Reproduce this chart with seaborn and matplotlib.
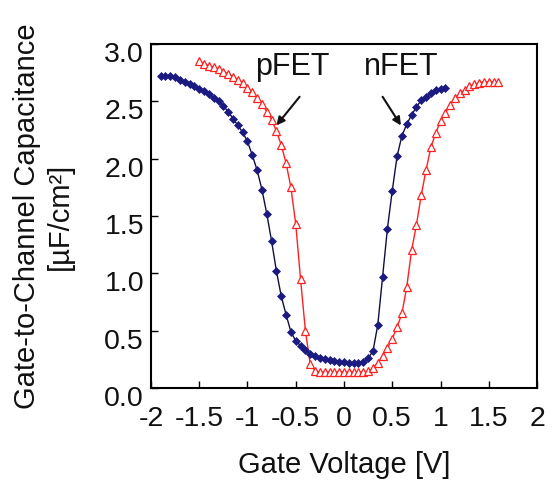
import matplotlib
matplotlib.use("Agg")
import matplotlib.pyplot as plt
import matplotlib.transforms as mtrans
import seaborn as sns
import pandas as pd

# ---- data ----
nfet_v = [-1.90, -1.85, -1.80, -1.75, -1.70, -1.65, -1.60, -1.55, -1.50, -1.45,
          -1.40, -1.35, -1.30, -1.25, -1.20, -1.15, -1.10, -1.05, -1.00, -0.95,
          -0.90, -0.85, -0.80, -0.75, -0.70, -0.65, -0.60, -0.55, -0.50, -0.45,
          -0.40, -0.35, -0.30, -0.25, -0.20, -0.15, -0.10, -0.05, 0.00, 0.05,
          0.10, 0.15, 0.20, 0.25, 0.30, 0.35, 0.40, 0.45, 0.50, 0.55,
          0.60, 0.65, 0.70, 0.75, 0.80, 0.85, 0.90, 0.95, 1.00, 1.05]
nfet_c = [2.72, 2.72, 2.72, 2.71, 2.69, 2.67, 2.65, 2.63, 2.61, 2.59,
          2.56, 2.53, 2.50, 2.46, 2.41, 2.35, 2.29, 2.23, 2.15, 2.03,
          1.90, 1.73, 1.52, 1.28, 1.02, 0.80, 0.64, 0.49, 0.41, 0.37,
          0.33, 0.30, 0.28, 0.26, 0.25, 0.24, 0.235, 0.23, 0.225, 0.22,
          0.215, 0.22, 0.23, 0.26, 0.32, 0.55, 0.97, 1.39, 1.72, 2.02,
          2.20, 2.30, 2.38, 2.45, 2.51, 2.54, 2.57, 2.60, 2.61, 2.62]

pfet_v = [-1.50, -1.45, -1.40, -1.35, -1.30, -1.25, -1.20, -1.15, -1.10, -1.05,
          -1.00, -0.95, -0.90, -0.85, -0.80, -0.75, -0.70, -0.65, -0.60, -0.55,
          -0.50, -0.45, -0.40, -0.35, -0.30, -0.25, -0.20, -0.15, -0.10, -0.05,
          0.00, 0.05, 0.10, 0.15, 0.20, 0.25, 0.30, 0.35, 0.40, 0.45,
          0.50, 0.55, 0.60, 0.65, 0.70, 0.75, 0.80, 0.85, 0.90, 0.95,
          1.00, 1.05, 1.10, 1.15, 1.20, 1.25, 1.30, 1.35, 1.40, 1.45,
          1.50, 1.55, 1.60]
pfet_c = [2.85, 2.83, 2.81, 2.80, 2.78, 2.76, 2.74, 2.715, 2.69, 2.66,
          2.62, 2.58, 2.53, 2.48, 2.41, 2.34, 2.24, 2.12, 1.96, 1.75,
          1.43, 0.95, 0.50, 0.21, 0.15, 0.14, 0.14, 0.14, 0.14, 0.14,
          0.14, 0.14, 0.14, 0.14, 0.14, 0.145, 0.17, 0.22, 0.28, 0.35,
          0.43, 0.53, 0.65, 0.88, 1.20, 1.42, 1.68, 1.90, 2.10, 2.22,
          2.33, 2.40, 2.47, 2.53, 2.57, 2.60, 2.63, 2.65, 2.66, 2.67,
          2.67, 2.67, 2.67]

x_ticks = [-2, -1.5, -1, -0.5, 0, 0.5, 1, 1.5, 2]
x_ticklabels = ["-2", "-1.5", "-1", "-0.5", "0", "0.5", "1", "1.5", "2"]
y_ticks = [0.0, 0.5, 1.0, 1.5, 2.0, 2.5, 3.0]
y_ticklabels = ["0.0", "0.5", "1.0", "1.5", "2.0", "2.5", "3.0"]

nfet_df = pd.DataFrame({"v": nfet_v, "c": nfet_c})
pfet_df = pd.DataFrame({"v": pfet_v, "c": pfet_c})

sns.set_theme(style="white")
plt.rcParams["font.family"] = ["Liberation Sans", "DejaVu Sans"]

fig = plt.figure(figsize=(5.55, 4.93), dpi=100)
ax = fig.add_axes([0.272, 0.213, 0.6956, 0.6977])

sns.lineplot(data=pfet_df, x="v", y="c", ax=ax, color="#ff2020", linewidth=1.0,
             marker="^", markersize=6, markerfacecolor="white",
             markeredgecolor="#ff2020", markeredgewidth=0.9, sort=False)
sns.lineplot(data=nfet_df, x="v", y="c", ax=ax, color="#101040", linewidth=1.0,
             marker="D", markersize=4.2, markerfacecolor="#1a1a80",
             markeredgecolor="#1a1a80", markeredgewidth=0.5, sort=False)

ax.set_xlim(-2, 2)
ax.set_ylim(0, 3)
ax.set_xticks(x_ticks)
ax.set_xticklabels(x_ticklabels)
ax.set_yticks(y_ticks)
ax.set_yticklabels(y_ticklabels)
ax.tick_params(axis="both", direction="in", length=5, width=1.0, color="black",
               labelsize=20.5, labelcolor="#111111", bottom=True, left=True,
               top=False, right=False)
ax.tick_params(axis="x", pad=13)
ax.tick_params(axis="y", pad=5)
for lab in ax.get_yticklabels():
    lab.set_transform(lab.get_transform() +
                      mtrans.ScaledTranslation(0, -8 / 100, fig.dpi_scale_trans))

for sp in ax.spines.values():
    sp.set_visible(True)
    sp.set_color("black")
    sp.set_linewidth(1.5)

ax.set_xlabel("Gate Voltage [V]", fontsize=21, color="#111111", labelpad=14)
ax.set_ylabel("Gate-to-Channel Capacitance\n[µF/cm²]", fontsize=21,
              color="#111111", labelpad=22, linespacing=1.2)

ax.text(-0.53, 2.80, "pFET", fontsize=22, color="#111111", ha="center", va="center")
ax.text(0.59, 2.80, "nFET", fontsize=22, color="#111111", ha="center", va="center")
arrow = dict(arrowstyle="-|>", color="#111111", lw=1.5, mutation_scale=12,
             shrinkA=0, shrinkB=0)
ax.annotate("", xy=(-0.70, 2.29), xytext=(-0.46, 2.54), arrowprops=arrow)
ax.annotate("", xy=(0.59, 2.29), xytext=(0.40, 2.54), arrowprops=arrow)

fig.savefig("out.png", dpi=100)
